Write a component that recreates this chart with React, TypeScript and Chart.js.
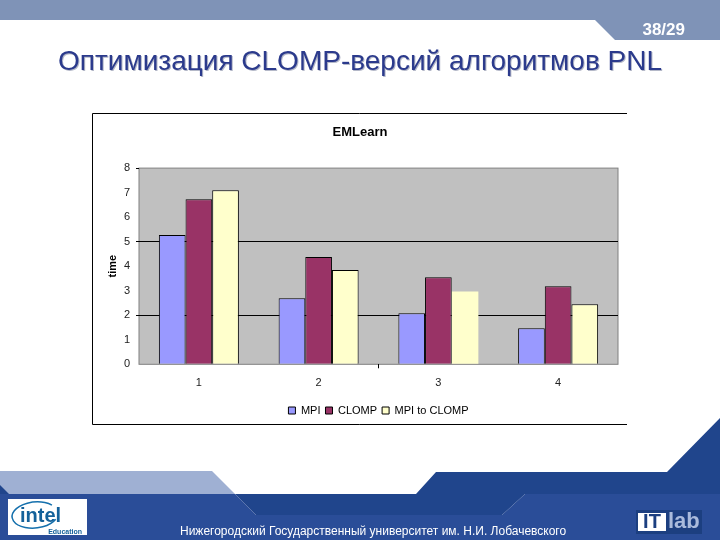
import { useEffect, useRef } from "react";
import { Chart, registerables } from "chart.js";

Chart.register(...registerables);

const categories = ["1", "2", "3", "4"];
const mpi = [5.27, 2.69, 2.08, 1.47];
const clomp = [6.73, 4.38, 3.55, 3.18];
const mpiToClomp = [7.1, 3.84, 2.97, 2.45];
const blackGridValues = [2, 5];

const slideTitle = "Оптимизация CLOMP-версий алгоритмов PNL";
const pageNumber = "38/29";
const footerText = "Нижегородский Государственный университет им. Н.И. Лобачевского";

const poly = (ctx: CanvasRenderingContext2D, color: string, pts: number[][]) => {
    ctx.fillStyle = color;
    ctx.beginPath();
    pts.forEach((p, i) => (i ? ctx.lineTo(p[0], p[1]) : ctx.moveTo(p[0], p[1])));
    ctx.closePath();
    ctx.fill();
};

const label = (
    ctx: CanvasRenderingContext2D,
    text: string,
    x: number,
    y: number,
    font: string,
    color: string,
    align: CanvasTextAlign = "left"
) => {
    ctx.font = font;
    ctx.fillStyle = color;
    ctx.textAlign = align;
    ctx.textBaseline = "middle";
    ctx.fillText(text, x, y);
};

// slide background, frame and plot area
const slidePlugin = {
    id: "slide",
    beforeDraw(chart: any) {
        const ctx: CanvasRenderingContext2D = chart.ctx;
        const a = chart.chartArea;
        ctx.save();
        ctx.fillStyle = "#ffffff";
        ctx.fillRect(0, 0, 720, 540);

        poly(ctx, "#7f93b7", [[0, 0], [720, 0], [720, 40], [615, 40], [595, 20], [0, 20]]);
        poly(ctx, "#9fb0d3", [[0, 471], [212, 471], [235, 494], [0, 494]]);
        poly(ctx, "#20458c", [[0, 485], [9, 494], [0, 494]]);
        poly(ctx, "#20458c", [[235, 494], [416, 494], [436, 472], [667, 472], [720, 418], [720, 494], [525, 494], [502, 515], [256, 515]]);
        poly(ctx, "#2a4d98", [[0, 494], [235, 494], [256, 515], [502, 515], [525, 494], [720, 494], [720, 540], [0, 540]]);

        ctx.strokeStyle = "#000000";
        ctx.lineWidth = 1;
        ctx.beginPath();
        ctx.moveTo(627, 113.5);
        ctx.lineTo(92.5, 113.5);
        ctx.lineTo(92.5, 424.5);
        ctx.lineTo(627, 424.5);
        ctx.stroke();

        ctx.fillStyle = "#c0c0c0";
        ctx.fillRect(a.left, a.top, a.right - a.left, a.bottom - a.top);
        ctx.strokeStyle = "#808080";
        ctx.strokeRect(a.left, a.top, a.right - a.left, a.bottom - a.top);
        ctx.restore();
    },
    afterDraw(chart: any) {
        const ctx: CanvasRenderingContext2D = chart.ctx;
        ctx.save();
        const titleFont = "28px 'Liberation Sans'";
        label(ctx, slideTitle, 59, 63, titleFont, "#b4b8c8");
        label(ctx, slideTitle, 58, 62, titleFont, "#2b3a8c");
        label(ctx, pageNumber, 685, 30, "bold 17px 'Liberation Sans'", "#ffffff", "right");
        label(ctx, footerText, 180, 532, "12px 'Liberation Sans'", "#ffffff");

        // intel logo
        ctx.fillStyle = "#ffffff";
        ctx.fillRect(8, 499, 79, 36);
        ctx.strokeStyle = "#1470ad";
        ctx.lineWidth = 1.5;
        ctx.beginPath();
        ctx.ellipse(35, 515, 23, 13, -0.1, 0.5, 5.6);
        ctx.stroke();
        label(ctx, "intel", 20, 516, "bold 20px 'Liberation Sans'", "#14619a");
        label(ctx, "Education", 82, 532, "bold 7px 'Liberation Sans'", "#14619a", "right");

        // ITlab logo
        ctx.fillStyle = "#1c3f80";
        ctx.fillRect(636, 510, 66, 24);
        ctx.fillStyle = "#ffffff";
        ctx.fillRect(638, 513, 28, 18);
        label(ctx, "IT", 652, 522, "bold 20px 'Liberation Sans'", "#1c3f80", "center");
        label(ctx, "lab", 668, 522, "bold 22px 'Liberation Sans'", "#a9bbdc");
        ctx.restore();
    },
};

const App = () => {
    const canvasRef = useRef<HTMLCanvasElement>(null);

    useEffect(() => {
        if (canvasRef.current) {
            const chart = new Chart(canvasRef.current, {
                type: "bar",
                data: {
                    labels: categories,
                    datasets: [
                        { label: "MPI", data: mpi, backgroundColor: "#9999ff" },
                        { label: "CLOMP", data: clomp, backgroundColor: "#993366" },
                        {
                            label: "MPI to CLOMP",
                            data: mpiToClomp,
                            backgroundColor: "#ffffcc",
                            // the third group has no outline in the picture
                            borderWidth: (c: any) => (c.dataIndex === 2 ? 0 : 1),
                        },
                    ],
                },
                options: {
                    responsive: false,
                    animation: false,
                    layout: { padding: { left: 102, right: 102, top: 125, bottom: 114 } },
                    datasets: {
                        bar: {
                            barPercentage: 1,
                            categoryPercentage: 0.668,
                            borderColor: "#000000",
                            borderWidth: 1,
                        },
                    },
                    plugins: {
                        title: {
                            display: true,
                            text: "EMLearn",
                            color: "#000000",
                            font: { family: "'Liberation Sans'", size: 13, weight: "bold" },
                            padding: { top: 0, bottom: 27.5 },
                        },
                        legend: {
                            position: "bottom",
                            fullSize: false,
                            labels: {
                                boxWidth: 7,
                                boxHeight: 7,
                                padding: 5,
                                color: "#000000",
                                font: { family: "'Liberation Sans'", size: 11 },
                            },
                        },
                        tooltip: { enabled: false },
                    },
                    scales: {
                        x: {
                            afterFit: (s: any) => {
                                s.height += 2.5;
                            },
                            border: { display: false },
                            grid: {
                                drawOnChartArea: false,
                                tickLength: 4,
                                tickColor: (c: any) => (c.index === 2 ? "#000000" : "transparent"),
                            },
                            ticks: {
                                color: "#222222",
                                padding: 8,
                                maxRotation: 0,
                                font: { family: "'Liberation Sans'", size: 11 },
                            },
                        },
                        y: {
                            min: 0,
                            max: 8,
                            afterFit: (s: any) => {
                                s.width = 37;
                            },
                            border: { display: false },
                            title: {
                                display: true,
                                text: "time",
                                color: "#000000",
                                padding: { top: 4, bottom: 2 },
                                font: { family: "'Liberation Sans'", size: 11, weight: "bold" },
                            },
                            grid: {
                                tickLength: 3,
                                color: (c: any) =>
                                    blackGridValues.includes(c.tick?.value) ? "#000000" : "transparent",
                                tickColor: (c: any) =>
                                    blackGridValues.includes(c.tick?.value) || c.tick?.value === 8
                                        ? "#000000"
                                        : "transparent",
                            },
                            ticks: {
                                stepSize: 1,
                                color: "#222222",
                                padding: 6,
                                font: { family: "'Liberation Sans'", size: 11 },
                            },
                        },
                    },
                },
                plugins: [slidePlugin],
            } as any);
            return () => {
                chart.destroy();
            };
        }
    }, []);

    return (
        <div style={{ position: "absolute", left: 0, top: 0, width: "720px", height: "540px" }}>
            <canvas ref={canvasRef} width={720} height={540} style={{ display: "block" }}></canvas>
        </div>
    );
};

export default App;
